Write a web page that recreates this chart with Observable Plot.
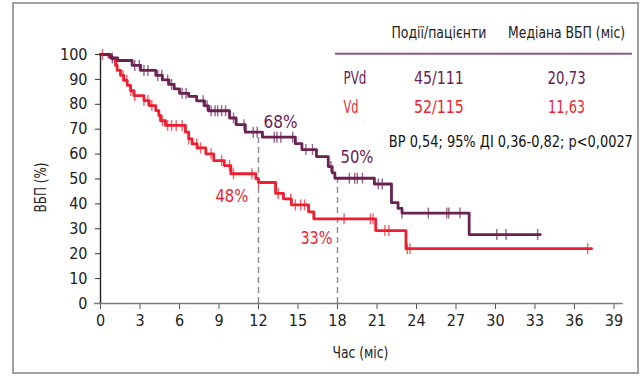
<!DOCTYPE html>
<html><head><meta charset="utf-8">
<script src="https://cdn.jsdelivr.net/npm/d3@7"></script>
<script src="https://cdn.jsdelivr.net/npm/@observablehq/plot@0.6"></script>
<style>
body{margin:0;background:#fff;font-family:"DejaVu Sans Condensed","Liberation Sans Narrow",sans-serif;}
#wrap{position:relative;width:642px;height:376px;overflow:hidden;}
#frame{position:absolute;left:12px;top:2px;width:623px;height:368px;border:2px solid #a0a0a0;}
#chart{position:absolute;left:0;top:0;}
</style></head><body>
<div id="wrap"><div id="frame"></div><div id="chart"></div></div>
<script>
// PVd step curve (months, % PFS)
const pvdTime = [0, 0.76, 1.3, 2.4, 3.05, 4.2, 4.7, 5.2, 5.6, 6.0, 6.7, 7.3, 7.9, 8.2, 9.8, 10.3, 11.0, 12.3, 14.8, 15.3, 16.4, 17.3, 17.6, 17.8, 20.8, 22.1, 22.6, 22.9, 28.0, 33.4];
const pvdSurv = [100, 98.6, 97.6, 95.6, 93.6, 91.6, 89.8, 88.0, 86.2, 84.4, 83.2, 81.4, 79.4, 77.4, 74.5, 71.8, 68.8, 66.8, 64.2, 61.8, 59.0, 55.0, 52.5, 50.3, 48.0, 40.5, 38.2, 36.3, 27.7, 27.7];
const pvdCensor = [0.9, 2.6, 2.95, 3.3, 3.6, 4.35, 4.66, 5.1, 5.4, 6.2, 6.5, 7.8, 8.1, 8.4, 8.7, 8.9, 9.2, 9.5, 10.1, 10.9, 11.6, 11.9, 13.2, 13.4, 13.7, 14.6, 15.6, 16.1, 17.5, 18.9, 19.3, 19.5, 19.9, 21.1, 21.4, 22.9, 24.9, 26.3, 26.45, 27.3, 30.1, 30.8, 33.2];

// Vd step curve
const vdTime = [0, 0.63, 0.89, 1.14, 1.27, 1.52, 1.77, 2.03, 2.28, 2.53, 3.3, 3.7, 4.2, 4.43, 4.56, 4.94, 6.45, 6.7, 6.96, 7.34, 8.0, 8.6, 9.4, 9.9, 11.8, 12.0, 13.3, 13.9, 14.5, 15.8, 16.2, 20.9, 23.2, 37.3];
const vdSurv = [100, 99.1, 98.3, 95.6, 93.6, 91.6, 89.6, 87.6, 85.5, 83.5, 81.5, 79.5, 77.5, 75.5, 73.4, 71.5, 68.8, 66.1, 64.1, 62.5, 60.1, 57.4, 55.4, 52.1, 50.1, 48.6, 44.2, 42.0, 39.6, 36.8, 34.0, 29.3, 22.0, 22.0];
const vdCensor = [0.15, 1.25, 1.7, 2.0, 2.3, 2.6, 3.3, 3.6, 3.9, 4.7, 5.1, 5.4, 5.75, 6.2, 6.7, 7.3, 7.6, 8.4, 9.2, 9.8, 10.1, 11.5, 12.0, 13.5, 14.45, 14.8, 15.2, 15.5, 18.5, 20.5, 20.7, 21.6, 21.9, 23.3, 23.5, 37.0];

// reference landmarks
const refTimes = [12, 18];
const refTops = [68, 50];
const pctLabels = ["68%", "50%", "48%", "33%"];
const pctX = [13.67, 19.48, 9.98, 16.4];
const pctY = [72.9, 58.8, 43.2, 26.3];
const pctGroup = ["PVd", "PVd", "Vd", "Vd"];

// table
const groups = ["PVd", "Vd"];
const eventsPatients = ["45/111", "52/115"];
const medians = ["20,73", "11,63"];
const headers = ["Події/пацієнти", "Медіана ВБП (міс)"];
const statsText = "ВР 0,54; 95% ДІ 0,36-0,82; p<0,0027";

const xTicks = d3.range(0, 40, 3);
const yTicks = d3.range(0, 101, 10);
const xLabel = "Час (міс)";
const yLabel = "ВБП (%)";

const purple = "#6b2152";
const red = "#ee1f30";
const colorOf = g => g === "PVd" ? purple : red;

const pvd = pvdTime.map((t, i) => ({t, s: pvdSurv[i]}));
const vd = vdTime.map((t, i) => ({t, s: vdSurv[i]}));
function survAt(times, surv, t) { let s = surv[0]; for (let i = 0; i < times.length; i++) if (times[i] <= t) s = surv[i]; return s; }
const censor = [
  ...pvdCensor.map(t => ({t, s: survAt(pvdTime, pvdSurv, t), g: "PVd"})),
  ...vdCensor.map(t => ({t, s: survAt(vdTime, vdSurv, t), g: "Vd"}))
];
const refs = refTimes.map((t, i) => ({t, top: refTops[i]}));
const pcts = pctLabels.map((l, i) => ({l, x: pctX[i], y: pctY[i], g: pctGroup[i]}));

const vbar = {draw(ctx, size) { const r = Math.sqrt(size / Math.PI); ctx.moveTo(0, -r); ctx.lineTo(0, r); }};

const rows = groups.map((g, i) => ({g, ev: eventsPatients[i], med: medians[i], y: [90.4, 78.7][i]}));

const FONT = "'DejaVu Sans Condensed', 'Liberation Sans Narrow', sans-serif";

const chart = Plot.plot({
  width: 642, height: 376,
  marginLeft: 100, marginRight: 28.5, marginTop: 54, marginBottom: 73,
  x: {domain: [0, 39]},
  y: {domain: [0, 100]},
  style: {fontFamily: FONT, color: "#222", background: "transparent"},
  marks: [
    Plot.axisY({ticks: yTicks, tickSize: 5, tickPadding: 8, fontSize: 16, label: null, stroke: "#333"}),
    Plot.axisX({ticks: xTicks, tickSize: 6, tickPadding: 5, fontSize: 16, label: null, stroke: "#555"}),
    Plot.ruleY([0], {x1: -0.45, x2: 39.7, stroke: "#7a7a7a", strokeWidth: 1.6}),
    Plot.ruleX([0], {y1: 0, y2: 100, stroke: "#222", strokeWidth: 1.4}),
    Plot.ruleX(refs, {x: "t", y1: 0, y2: "top", stroke: "#8a8a8a", strokeWidth: 1.4, strokeDasharray: "6,4"}),
    Plot.line(vd, {x: "t", y: "s", curve: "step-after", stroke: red, strokeWidth: 2.8}),
    Plot.line(pvd, {x: "t", y: "s", curve: "step-after", stroke: purple, strokeWidth: 2.8}),
    Plot.dot(censor, {x: "t", y: "s", r: 5.5, symbol: vbar, fill: "none", stroke: d => colorOf(d.g), strokeWidth: 1.4, strokeOpacity: 0.7}),
    Plot.text(pcts, {x: "x", y: "y", text: "l", fill: d => colorOf(d.g), fontSize: 18}),
    Plot.text([yLabel], {x: -4.48, y: 46.6, rotate: -90, fontSize: 15.5, fill: "#222"}),
    Plot.text([xLabel], {x: 19.74, y: -19.8, fontSize: 15.5, fill: "#222"}),
    // table
    Plot.text(headers, {x: [25.7, 35.4], y: 108.4, fontSize: 15, fill: "#222"}),
    Plot.ruleY([100.3], {x1: 17.84, x2: 40.4, stroke: "#8c5a7e", strokeWidth: 2}),
    Plot.text(rows, {x: 18.45, y: "y", text: "g", textAnchor: "start", fill: d => colorOf(d.g), fontSize: 17}),
    Plot.text(rows, {x: 25.7, y: "y", text: "ev", fill: d => colorOf(d.g), fontSize: 17}),
    Plot.text(rows, {x: 35.4, y: "y", text: "med", fill: d => colorOf(d.g), fontSize: 17}),
    Plot.text([statsText], {x: 21.9, y: 65.1, textAnchor: "start", fontSize: 16, fill: "#111"})
  ]
});
document.getElementById("chart").appendChild(chart);

// fit text widths to the reference's condensed typeface
const widths = new Map([
  [statsText, 244], [headers[0], 95], [headers[1], 117], [xLabel, 56], [yLabel, 50],
  ["45/111", 50], ["52/115", 50], ["20,73", 38], ["11,63", 37], ["PVd", 23], ["Vd", 15],
  ["68%", 34], ["50%", 33], ["48%", 33], ["33%", 32]
]);
d3.select(chart).selectAll("text").each(function() {
  const w = widths.get(this.textContent);
  if (w) { this.setAttribute("textLength", w); this.setAttribute("lengthAdjust", "spacingAndGlyphs"); }
});
</script></body></html>
